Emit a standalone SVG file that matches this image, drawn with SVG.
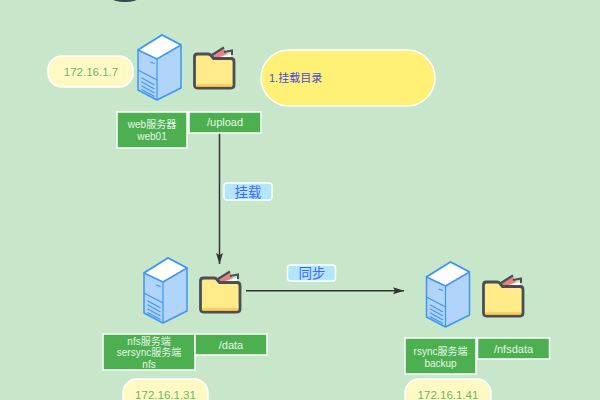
<svg xmlns="http://www.w3.org/2000/svg" width="600" height="400" viewBox="0 0 600 400">
<style>
text{font-family:"Liberation Sans","Noto Sans CJK SC",sans-serif;text-anchor:middle}
.g{fill:#4caf50;stroke:#fff;stroke-width:1.5}
.gt{fill:#e8f5e9;font-size:11px}
.gs{fill:#e8f5e9;font-size:10px}
.y{fill:#fff9c4;stroke:#fff;stroke-width:1.5}
.yt{fill:#66bb6a;font-size:11.5px}
.b{fill:#b3e5fc;stroke:#fff;stroke-width:1.5}
.bt{fill:#3d6afe;font-size:13.500px}
.l{stroke:#333;stroke-width:1.5;fill:none}
.s1{fill:#b1d4fb;stroke:#3e96f5;stroke-width:1.5;stroke-linejoin:round}
.s2{fill:#fff;stroke:#3e96f5;stroke-width:1.5;stroke-linejoin:round}
.s3{fill:none;stroke:#3e96f5;stroke-width:1.2}
</style>
<defs>
<marker id="a" markerWidth="12" markerHeight="8" refX="11" refY="4" orient="auto" markerUnits="userSpaceOnUse"><path d="M0 0.500L11 4L0 7.500L2 4Z" fill="#333"/></marker>
<g id="srv">
<path class="s1" d="M0 15L24 0L43 10V53L19 65L0 55Z"/>
<path class="s2" d="M0 15L24 0L43 10L19 24Z"/>
<path class="s3" d="M19 24V65M0 35L19 45M3.500 42.700L16.500 50M3.500 46.700L16.500 54M3.500 50.700L16.500 58M3.500 54.500L16.500 61.500M12 27L16.500 28.500"/>
</g>
<g id="fld">
<path d="M19 10L31 3L34 8L22 13Z" fill="#ef7f7f"/>
<path d="M19 9L31 1.500" stroke="#4a4f55" stroke-width="2.4" fill="none"/>
<path d="M27 11L38 8V13H27Z" fill="#fff"/>
<path d="M31 6L39 4.500V9" stroke="#4a4f55" stroke-width="2" fill="none"/>
<path d="M4.500 8H15Q17 8 18 9.500L20.500 12.500H38Q41 12.500 41 15.500V39Q41 42 38 42H4.500Q1.500 42 1.500 39V11Q1.500 8 4.500 8Z" fill="#ffeb8a" stroke="#4a4f55" stroke-width="2.800" stroke-linejoin="round"/>
<path d="M3.500 39.500H39" stroke="#fbc94f" stroke-width="2.400"/>
</g>
</defs>
<rect width="600" height="400" fill="#c8e6c9"/>
<ellipse cx="125" cy="-2.500" rx="14" ry="4.500" fill="#37474f"/>
<g id="connectors">
<path class="l" d="M219.500 133V264" marker-end="url(#a)"/>
<path class="l" d="M246 290.700H404" marker-end="url(#a)"/>
</g>
<g id="ip-web"><rect class="y" x="48" y="56" width="85" height="31" rx="14"/><text class="yt" x="91" y="76">172.16.1.7</text></g>
<g id="server-web"><use href="#srv" x="138" y="35"/></g>
<g id="folder-web"><use href="#fld" x="193" y="46"/></g>
<g id="label-web"><rect class="g" x="117" y="112" width="70" height="36"/><text class="gs" x="152" y="128">web服务器</text><text class="gs" x="152" y="140">web01</text></g>
<g id="label-upload"><rect class="g" x="189" y="112" width="72" height="21"/><text class="gt" x="225" y="126">/upload</text></g>
<g id="note"><rect x="261" y="50" width="174" height="56" rx="28" fill="#fff176" stroke="#fff" stroke-width="1.500"/><text x="269" y="82" style="text-anchor:start;font-size:11px;fill:#4a4ad8">1.挂载目录</text></g>
<g id="edge-mount"><rect class="b" x="224" y="183" width="48" height="17" rx="3"/><text class="bt" x="248" y="197">挂载</text></g>
<g id="edge-sync"><rect class="b" x="287.500" y="265" width="48" height="16" rx="3"/><text class="bt" x="312" y="278">同步</text></g>
<g id="server-nfs"><use href="#srv" x="144" y="258"/></g>
<g id="folder-nfs"><use href="#fld" x="199" y="270"/></g>
<g id="label-nfs"><rect class="g" x="103" y="334" width="92" height="36"/><text class="gs" x="149" y="345">nfs服务端</text><text class="gs" x="149" y="356">sersync服务端</text><text class="gs" x="149" y="368">nfs</text></g>
<g id="label-data"><rect class="g" x="195" y="334" width="72" height="21"/><text class="gt" x="231" y="349">/data</text></g>
<g id="ip-nfs"><rect class="y" x="123" y="379" width="85" height="40" rx="14"/><text class="yt" x="165.500" y="399">172.16.1.31</text></g>
<g id="server-rsync"><use href="#srv" x="426.500" y="262"/></g>
<g id="folder-rsync"><use href="#fld" x="482" y="274"/></g>
<g id="label-rsync"><rect class="g" x="405" y="338" width="71" height="36"/><text class="gs" x="440.500" y="355">rsync服务端</text><text class="gs" x="440.500" y="367">backup</text></g>
<g id="label-nfsdata"><rect class="g" x="477.500" y="338" width="72" height="21"/><text class="gt" x="513.500" y="353">/nfsdata</text></g>
<g id="ip-rsync"><rect class="y" x="405" y="379" width="86" height="40" rx="14"/><text class="yt" x="448" y="399">172.16.1.41</text></g>
</svg>
